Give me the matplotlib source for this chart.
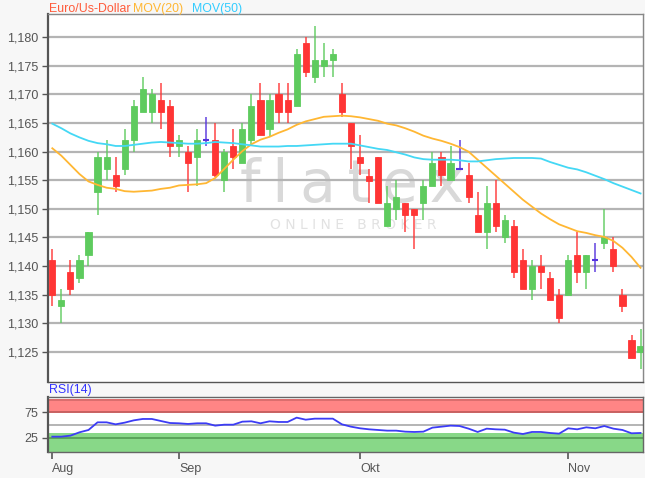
import matplotlib
matplotlib.use("Agg")
import matplotlib.pyplot as plt
from matplotlib.ticker import FuncFormatter, FixedLocator

# ---- data ----
opens = [1.141, 1.133, 1.139, 1.138, 1.142, 1.153, 1.157, 1.156, 1.157, 1.162,
         1.167, 1.167, 1.169, 1.168, 1.161, 1.160, 1.159, 1.162, 1.162, 1.155,
         1.161, 1.158, 1.162, 1.169, 1.164, 1.170, 1.169, 1.168, 1.179, 1.173,
         1.175, 1.176, 1.170, 1.165, 1.159, 1.1557, 1.159, 1.147, 1.150, 1.151,
         1.150, 1.151, 1.154, 1.159, 1.155, 1.157, 1.156, 1.149, 1.146, 1.151,
         1.145, 1.147, 1.141, 1.136, 1.140, 1.138, 1.135, 1.135, 1.142, 1.139,
         1.141, 1.144, 1.143, 1.135, 1.127, 1.125]
highs = [1.143, 1.136, 1.141, 1.142, 1.146, 1.160, 1.162, 1.159, 1.164, 1.169,
         1.173, 1.171, 1.172, 1.169, 1.163, 1.161, 1.164, 1.166, 1.165, 1.1605,
         1.164, 1.165, 1.170, 1.172, 1.170, 1.172, 1.172, 1.178, 1.180, 1.182,
         1.179, 1.178, 1.172, 1.165, 1.163, 1.157, 1.159, 1.154, 1.155, 1.151,
         1.150, 1.155, 1.160, 1.160, 1.161, 1.162, 1.158, 1.153, 1.154, 1.155,
         1.149, 1.148, 1.143, 1.141, 1.142, 1.139, 1.136, 1.142, 1.146, 1.142,
         1.144, 1.150, 1.145, 1.136, 1.128, 1.129]
lows = [1.133, 1.130, 1.135, 1.137, 1.140, 1.149, 1.155, 1.153, 1.156, 1.160,
        1.167, 1.165, 1.164, 1.159, 1.159, 1.153, 1.154, 1.161, 1.1555, 1.153,
        1.157, 1.158, 1.161, 1.163, 1.1625, 1.165, 1.165, 1.168, 1.173, 1.172,
        1.173, 1.173, 1.166, 1.157, 1.156, 1.151, 1.151, 1.147, 1.148, 1.146,
        1.143, 1.148, 1.154, 1.154, 1.155, 1.157, 1.151, 1.146, 1.143, 1.146,
        1.144, 1.138, 1.136, 1.134, 1.136, 1.134, 1.130, 1.135, 1.137, 1.136,
        1.139, 1.143, 1.139, 1.132, 1.124, 1.122]
closes = [1.135, 1.134, 1.136, 1.141, 1.146, 1.159, 1.159, 1.154, 1.162, 1.168,
          1.171, 1.170, 1.167, 1.161, 1.162, 1.158, 1.162, 1.162, 1.156, 1.160,
          1.159, 1.164, 1.168, 1.163, 1.169, 1.167, 1.167, 1.177, 1.174, 1.176,
          1.176, 1.177, 1.167, 1.161, 1.158, 1.1549, 1.151, 1.151, 1.152, 1.149,
          1.149, 1.154, 1.158, 1.156, 1.158, 1.157, 1.152, 1.146, 1.151, 1.147,
          1.148, 1.139, 1.136, 1.140, 1.139, 1.134, 1.131, 1.141, 1.139, 1.142,
          1.141, 1.145, 1.140, 1.133, 1.124, 1.126]

mov20 = [1.1606, 1.1593, 1.1577, 1.1561, 1.1548, 1.1542, 1.1537, 1.1535, 1.1531, 1.1530,
         1.1531, 1.1532, 1.1535, 1.1537, 1.1541, 1.1542, 1.1543, 1.1545, 1.1554, 1.1570,
         1.1586, 1.1601, 1.1613, 1.1621, 1.1626, 1.1633, 1.1639, 1.1647, 1.1653, 1.1657,
         1.1661, 1.1662, 1.1663, 1.1662, 1.1660, 1.1657, 1.1654, 1.1649, 1.1646, 1.1641,
         1.1635, 1.1628, 1.1623, 1.1619, 1.1614, 1.1608, 1.1600, 1.1586, 1.1572, 1.1558,
         1.1544, 1.1530, 1.1516, 1.1504, 1.1492, 1.1482, 1.1473, 1.1467, 1.1461, 1.1458,
         1.1454, 1.1451, 1.1444, 1.1432, 1.1416, 1.1397]
mov50 = [1.1649, 1.1641, 1.1632, 1.1625, 1.1619, 1.1615, 1.1613, 1.1610, 1.1610, 1.1612,
         1.1614, 1.1616, 1.1617, 1.1616, 1.1615, 1.1614, 1.1614, 1.1615, 1.1617, 1.1616,
         1.1615, 1.1613, 1.1611, 1.1609, 1.1609, 1.1609, 1.1610, 1.1610, 1.1611, 1.1612,
         1.1613, 1.1614, 1.1614, 1.1614, 1.1611, 1.1608, 1.1605, 1.1603, 1.1599, 1.1595,
         1.1590, 1.1587, 1.1586, 1.1586, 1.1586, 1.1585, 1.1583, 1.1583, 1.1585, 1.1587,
         1.1588, 1.1589, 1.1589, 1.1589, 1.1588, 1.1582, 1.1577, 1.1572, 1.1569, 1.1564,
         1.1558, 1.1552, 1.1545, 1.1539, 1.1533, 1.1527]
rsi = [27.6, 27.6, 29.6, 36.1, 40.7, 55.7, 55.7, 51.8, 55.1, 59.6,
       62.3, 62.3, 58.3, 54.4, 53.8, 52.5, 53.8, 53.8, 49.2, 51.1,
       51.1, 57.0, 57.7, 53.8, 57.7, 56.4, 56.4, 64.9, 60.9, 62.9,
       62.9, 62.9, 51.8, 47.2, 44.0, 42.0, 40.7, 39.4, 39.4, 37.4,
       36.8, 37.4, 45.3, 47.2, 49.2, 48.5, 43.3, 36.8, 43.3, 42.0,
       41.3, 35.5, 32.8, 36.8, 36.8, 34.8, 33.5, 44.0, 42.0, 45.9,
       44.0, 48.5, 43.3, 40.7, 34.2, 34.8]

month_labels = ["Aug", "Sep", "Okt", "Nov"]
month_pos = [0, 14, 34, 57]
price_ticks = [1.125, 1.130, 1.135, 1.140, 1.145, 1.150, 1.155, 1.160,
               1.165, 1.170, 1.175, 1.180]
rsi_ticks = [25, 75]

# ---- styling ----
W, H = 645, 478
GREEN = "#5ecb5e"
RED = "#ff3535"
DOJI = "#5533dd"
TICKC = "#555555"
plt.rcParams['font.family'] = ['Liberation Sans', 'DejaVu Sans']

fig = plt.figure(figsize=(W / 100, H / 100), dpi=100, facecolor="#f7f7f7")
L, R = 48, 643
ax = fig.add_axes([L / W, 1 - 381.7 / H, (R - L) / W, (381.7 - 14.3) / H])
rax = fig.add_axes([L / W, 1 - 451.7 / H, (R - L) / W, (451.7 - 397.3) / H])

n = len(opens)
xs = list(range(n))

ax.set_facecolor("white")
ax.set_axisbelow(True)
ax.yaxis.grid(True, color="#b4b4b4", lw=1.6)
ax.xaxis.grid(False)

# watermark
ax.text(240 / W, 1 - 202 / H, "f\u2009l\u2009a\u2009t\u2009e\u2009x", transform=fig.transFigure,
        fontsize=42, color="#d9d9d9", ha="left", va="baseline", zorder=0.3,
        family="DejaVu Sans")
ax.text(353 / W, 1 - 225 / H, "O N L I N E   B R O K E R", transform=fig.transFigure,
        fontsize=10, color="#e2e2e2", ha="center", va="center", zorder=0.3,
        family="DejaVu Sans")

bw = 0.68
for i in xs:
    o, h, l, c = opens[i], highs[i], lows[i], closes[i]
    if c > o:
        col = GREEN
    elif c < o:
        col = RED
    else:
        col = DOJI
    ax.vlines(i, l, h, color=col, lw=1.2, alpha=0.85, zorder=3)
    if c == o:
        ax.hlines(o, i - bw / 2, i + bw / 2, color=col, lw=1.5, zorder=4)
    else:
        ax.bar(i, abs(c - o), bottom=min(o, c), width=bw, color=col,
               edgecolor=col, lw=0.6, zorder=4)

ax.plot(xs, mov20, color="#ffb733", lw=1.3, zorder=5)
ax.plot(xs, mov50, color="#44d8f5", lw=1.3, zorder=5)

ax.set_xlim(-0.475, 65.27)
ax.set_ylim(1.11979, 1.18402)
ax.yaxis.set_major_locator(FixedLocator(price_ticks))
ax.yaxis.set_major_formatter(FuncFormatter(lambda v, p: f"{v:.3f}".replace(".", ",")))
ax.tick_params(axis="y", length=4, width=1, color=TICKC, labelcolor=TICKC,
               labelsize=9, pad=3)
ax.tick_params(axis="x", bottom=False, labelbottom=False)
for s in ["top", "right", "bottom"]:
    ax.spines[s].set_color("#888888")
    ax.spines[s].set_linewidth(1.0)
ax.spines["bottom"].set_color("#555555")
ax.spines["left"].set_color("#555555")
ax.spines["left"].set_linewidth(1.6)

# title
fig.text(49 / W, 1 - 9 / H, "Euro/Us-Dollar", color="#ff5a3a", fontsize=8.9,
         ha="left", va="center")
fig.text(133 / W, 1 - 9 / H, "MOV(20)", color="#ffb733", fontsize=8.9,
         ha="left", va="center")
fig.text(192 / W, 1 - 9 / H, "MOV(50)", color="#33ccff", fontsize=8.9,
         ha="left", va="center")

# ---- RSI panel ----
rax.set_facecolor("white")
rax.axhspan(75, 102, color="#ff8585", lw=0, zorder=0.5)
rax.axhspan(-2, 34.8, color="#88d888", lw=0, zorder=0.5)
rax.axhline(100, color="#d46a6a", lw=1.2, zorder=1)
rax.axhline(75, color="#c86060", lw=1.4, zorder=1)
rax.axhline(25, color="#5aa35a", lw=1.4, zorder=1)
rax.axhline(50, color="#b4b4b4", lw=1.4, zorder=1)
rax.plot(xs, rsi, color="#3c3cf5", lw=1.3, zorder=3)
rax.set_xlim(-0.475, 65.27)
rax.set_ylim(-1.9, 104.8)
rax.yaxis.set_major_locator(FixedLocator(rsi_ticks))
rax.tick_params(axis="y", length=4, width=1, color=TICKC, labelcolor=TICKC,
                labelsize=9, pad=3)
rax.xaxis.set_major_locator(FixedLocator(month_pos))
rax.set_xticklabels(month_labels)
rax.tick_params(axis="x", length=5, width=1.2, color=TICKC, labelcolor=TICKC,
                labelsize=9, pad=3)
for lab in rax.get_xticklabels():
    lab.set_horizontalalignment("left")
for s in ["top", "right", "bottom"]:
    rax.spines[s].set_color("#666666")
    rax.spines[s].set_linewidth(1.0)
rax.spines["left"].set_color("#555555")
rax.spines["left"].set_linewidth(1.6)
fig.text(49 / W, 1 - 390.5 / H, "RSI(14)", color="#3333ff", fontsize=8.9,
         ha="left", va="center")

fig.savefig("out.png", dpi=100, facecolor=fig.get_facecolor())
